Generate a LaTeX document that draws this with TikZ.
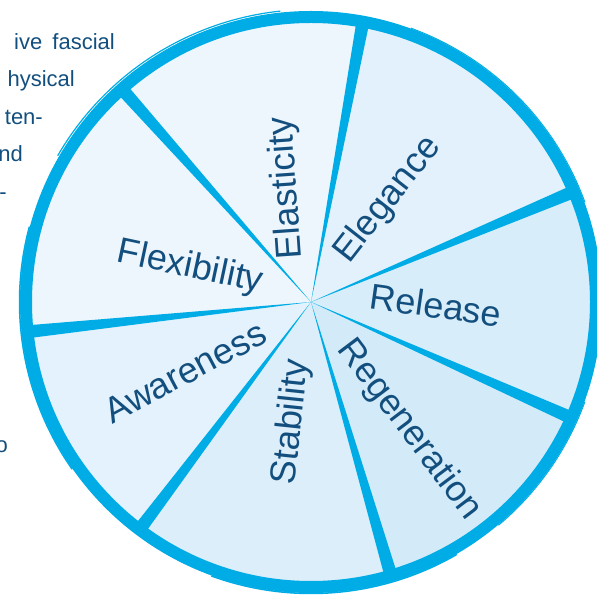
\documentclass[tikz,border=0pt]{standalone}
\usepackage{fontspec}
\setmainfont{Liberation Sans}
\definecolor{rim}{HTML}{00ACE5}
\definecolor{ink}{HTML}{134F7E}
\definecolor{segA}{HTML}{EEF6FD}
\definecolor{segB}{HTML}{E3F2FC}
\definecolor{segC}{HTML}{DBEEFA}
\definecolor{segD}{HTML}{D3EBF9}
\definecolor{segE}{HTML}{D8EDFA}
\definecolor{segF}{HTML}{E2F1FB}

\begin{document}
\begin{tikzpicture}[x=1pt, y=1pt]
\tikzset{mot/.style={text=ink, font=\fontsize{36}{40}\selectfont, inner sep=0pt},
         para/.style={text=ink, font=\fontsize{22}{26}\selectfont, anchor=base east, inner sep=0pt},
         rayon/.style={fill=rim}}
\useasboundingbox (0, 0) rectangle (597, 605);
\clip (0, 0) rectangle (597, 605);
% texte coupe a gauche
\node[para] (L1) at (115, 555) {ive\hspace{4pt} fascial};
\node[para] (L2) at (75, 518) {hysical};
\node[para] (L3) at (43, 480) {ten-};
\node[para] (L4) at (23, 443) {nd};
\node[para] (L5) at (7, 405) {-};
\node[para] (L6) at (8, 152) {o};
% la roue
\coordinate (hub) at (311, 303);
\begin{scope}[shift={(hub)}]
\fill[segA] (0, 0) -- (79.5:285) arc (79.5:186:285) -- cycle;
\fill[segB] (0, 0) -- (186:285) arc (186:233:285) -- cycle;
\fill[segC] (0, 0) -- (233:285) arc (233:286.3:285) -- cycle;
\fill[segD] (0, 0) -- (286.3:285) arc (286.3:336:285) -- cycle;
\fill[segE] (0, 0) -- (336:285) arc (336:382.8:285) -- cycle;
\fill[segF] (0, 0) -- (22.8:285) arc (22.8:79.5:285) -- cycle;
% rayons
\foreach \a in {79.5, 131.6, 186, 233, 286.3, 336, 22.8}
  \fill[rayon] (0, 0) -- (\a-1.3:287) -- (\a+1.3:287) -- cycle;
% bord
\draw[rim, line width=12pt] (0, 0) circle (285);
\draw[rim, line width=1.2pt] (96:292.5) arc (96:150:292.5);
\draw[rim, line width=1.5pt] (165:291.5) arc (165:215:291.5);
\draw[rim, line width=1pt] (20:291.5) arc (20:70:291.5);
\draw[rim, line width=1.5pt] (250:291.5) arc (250:300:291.5);
\draw[rim, line width=1pt] (310:291.5) arc (310:340:291.5);
\end{scope}
% etiquettes
\node[mot, rotate=94] (elasticity) at (287, 417) {Elasticity};
\node[mot, rotate=52] (elegance) at (388, 405) {Elegance};
\node[mot, rotate=-8] (release) at (436, 300) {Release};
\node[mot, rotate=-53] (regeneration) at (409, 175) {Regeneration};
\node[mot, rotate=84] (stability) at (292, 183) {Stability};
\node[mot, rotate=28] (awareness) at (185, 233) {Awareness};
\node[mot, rotate=-12] (flexibility) at (190, 337) {Flexibility};
\end{tikzpicture}
\end{document}
